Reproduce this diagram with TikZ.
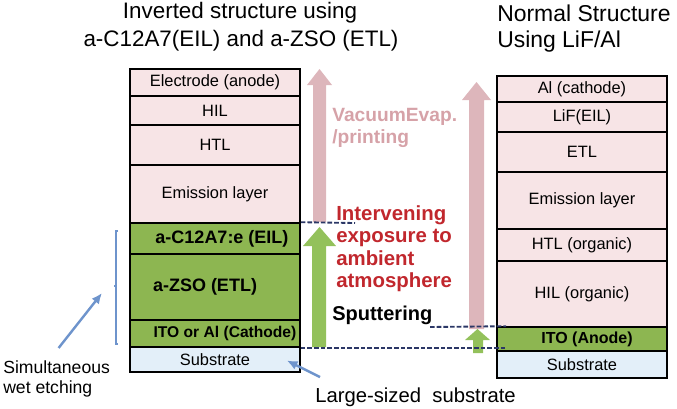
\documentclass[tikz,border=0pt]{standalone}
\usepackage{fontspec}
\setmainfont{Liberation Sans}
\usetikzlibrary{arrows.meta,calc}
\definecolor{pinkL}{HTML}{F7E4E6}
\definecolor{greenL}{HTML}{8DB651}
\definecolor{subL}{HTML}{E3EFF9}
\definecolor{pinkA}{HTML}{DDB6BB}
\definecolor{greenA}{HTML}{93C15B}
\definecolor{dashnavy}{HTML}{2B3766}
\definecolor{redtxt}{HTML}{C1272D}
\definecolor{pinktxt}{HTML}{D6A2A8}
\definecolor{noteblue}{HTML}{6E94CC}

\begin{document}
\begin{tikzpicture}[x=0.75pt,y=-0.75pt,
	layer/.style={draw=black,line width=1.2pt,inner sep=0pt,minimum width=127.5pt,
		font=\fontsize{12.3}{14}\selectfont},
	boldlbl/.style={font=\fontsize{13.5}{16}\selectfont\bfseries},
	gap/.style={draw=dashnavy,line width=1.4pt,dash pattern=on 3.5pt off 1.5pt},
	note/.style={draw=noteblue,line width=1.8pt,-{Latex[length=8pt,width=7pt]}}]
	\useasboundingbox (0,0) rectangle (677,408);
	% titles
	\node[anchor=base,font=\fontsize{16.8}{20}\selectfont] (tInv) at (240,18.5) {Inverted structure using};
	\node[anchor=base,font=\fontsize{16.8}{20}\selectfont] (tInv2) at (241,46) {a-C12A7(EIL) and a-ZSO (ETL)};
	\node[anchor=base west,inner sep=0pt,font=\fontsize{17.2}{20}\selectfont] (tNor) at (497,21) {Normal Structure};
	\node[anchor=base west,inner sep=0pt,font=\fontsize{17.2}{20}\selectfont] (tNor2) at (497,47) {Using LiF/Al};
	% inverted stack
	\foreach \t/\b/\c/\n/\s in {69/96/pinkL/lAnode/{Electrode (anode)}, 96/125/pinkL/lHIL/HIL,
		125/165/pinkL/lHTL/HTL, 165/223/pinkL/lEML/{Emission layer}, 223/254/greenL/lEIL/{},
		254/320/greenL/lZSO/{}, 320/347/greenL/lCath/{}, 347/372/subL/lSub/Substrate}
		\node[layer,fill=\c,minimum height={(\b-\t)*0.75pt}] (\n) at (215,{(\t+\b)/2}) {\s};
	\node[boldlbl] (tEIL) at ($(lEIL)+(7,0)$) {a-C12A7:e (EIL)};
	\node[boldlbl] (tZSO) at ($(lZSO)+(-10,0)$) {a-ZSO (ETL)};
	\node[font=\fontsize{11.7}{14}\selectfont\bfseries] (tCath) at ($(lCath)+(10,0)$) {ITO or Al (Cathode)};
	% normal stack
	\foreach \t/\b/\c/\n/\s in {76/102/pinkL/rAl/{Al (cathode)}, 102/132/pinkL/rLiF/{LiF(EIL)},
		132/172/pinkL/rETL/ETL, 172/229/pinkL/rEML/{Emission layer}, 229/261/pinkL/rHTL/{HTL (organic)},
		261/327/pinkL/rHIL/{HIL (organic)}, 327/351/greenL/rITO/{}, 351/378/subL/rSub/Substrate}
		\node[layer,fill=\c,minimum height={(\b-\t)*0.75pt}] (\n) at (582,{(\t+\b)/2}) {\s};
	\node[font=\fontsize{12}{14}\selectfont\bfseries] (tITO) at ($(rITO)+(5,0)$) {ITO (Anode)};
	% process arrows
	\fill[pinkA] (313,222) |- (307,85) -- (319.5,69) -- (332,85) -| (326,222) -- cycle;
	\fill[pinkA] (469,329) |- (462,100) -- (476.5,82) -- (491,100) -| (484,329) -- cycle;
	\fill[greenA] (312,347) |- (303,246) -- (319.5,227) -- (336,246) -| (326,347) -- cycle;
	\fill[greenA] (473,353) |- (465,340) -- (477.5,329) -- (490,340) -| (483,353) -- cycle;
	\coordinate (d1) at (355,223);
	\coordinate (d2) at (430,327);
	\draw[gap] (lEIL.north east) -- (d1);
	\draw[gap] (d2) -- ($(rITO.north west)+(10,0)$);
	\draw[gap] (lCath.south east) -- ($(lCath.south east -| rITO.west)+(10,0)$);
	% process labels
	\node[anchor=north west,align=left,text=pinktxt,inner sep=0pt,
		font=\fontsize{14.4}{16.5}\selectfont\bfseries] (vac) at (332,108) {VacuumEvap.\\/printing};
	\node[anchor=north west,align=left,text=redtxt,inner sep=0pt,
		font=\fontsize{15.3}{16.9}\selectfont\bfseries] (expo) at (336,205) {Intervening\\exposure to\\ambient\\atmosphere};
	\node[anchor=base west,inner sep=0pt,font=\fontsize{15}{18}\selectfont\bfseries] (sput) at (332,320) {Sputtering};
	% notes
	\draw[noteblue,line width=1pt] (118,231) -| (116,344) -- (118,344) (116,286) -- (114,286);
	\coordinate (brk) at (102,293);
	\node[anchor=north west,align=left,inner sep=0pt,
		font=\fontsize{13.2}{15}\selectfont] (etch) at (3,360) {Simultaneous\\wet etching};
	\draw[note] ($(etch.north)+(2,-12)$) -- (brk);
	\node[anchor=base west,inner sep=0pt,font=\fontsize{15.2}{18}\selectfont] (big) at (315,402) {Large-sized\ \ substrate};
	\draw[note] ($(big.north west)+(5,-10)$) -- ($(lSub.east)+(-14,1)$);
\end{tikzpicture}
\end{document}
